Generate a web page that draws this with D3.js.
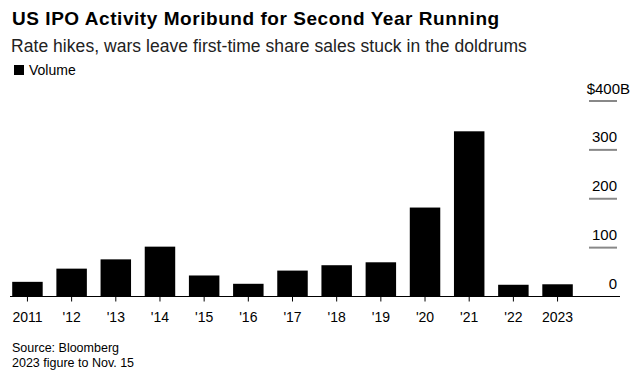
<!DOCTYPE html>
<html>
<head>
    <meta charset="utf-8">
    <script src="https://d3js.org/d3.v7.min.js"></script>
    <style>
        body { margin: 0; background: #fff; }
        text { font-family: "Liberation Sans", Arial, sans-serif; }
    </style>
</head>
<body>
<svg></svg>
<script>
    var years = ['2011', "'12", "'13", "'14", "'15", "'16", "'17", "'18", "'19", "'20", "'21", "'22", '2023'];
    var volume = [30, 57, 76, 102, 43, 26, 53, 64, 70, 182, 338, 24, 25];
    var yTicks = [0, 100, 200, 300, 400];

    var vWidth = 640, vHeight = 373;
    var svg = d3.select('svg').attr('width', vWidth).attr('height', vHeight);

    // Titles
    svg.append('text').attr('x', 12).attr('y', 25)
        .style('font-size', '19px').style('font-weight', 'bold').style('letter-spacing', '0.55px')
        .text('US IPO Activity Moribund for Second Year Running');
    svg.append('text').attr('x', 11).attr('y', 52)
        .style('font-size', '17.5px').style('fill', '#222').style('letter-spacing', '0.05px')
        .text('Rate hikes, wars leave first-time share sales stuck in the doldrums');

    // Legend
    svg.append('rect').attr('x', 14).attr('y', 65).attr('width', 10).attr('height', 10).style('fill', '#000');
    svg.append('text').attr('x', 29).attr('y', 75).style('font-size', '14px').text('Volume');

    // Scales
    var x = d3.scaleBand().domain(years).range([10, 575]).paddingInner(0.31).paddingOuter(0.05);
    var y = d3.scaleLinear().domain([0, 400]).range([296.5, 101]);

    // Right axis: short gridlines with labels above
    var gy = svg.append('g');
    gy.selectAll('line.grid').data(yTicks.slice(1)).enter().append('line')
        .attr('x1', 589).attr('x2', 617)
        .attr('y1', function (d) { return y(d); }).attr('y2', function (d) { return y(d); })
        .style('stroke', '#888').style('stroke-width', 2);
    gy.selectAll('text').data(yTicks).enter().append('text')
        .attr('x', function (d) { return d === 400 ? 630 : 617; })
        .attr('y', function (d) { return y(d) - 7.5; })
        .attr('text-anchor', 'end').style('font-size', '15px')
        .text(function (d) { return d === 400 ? '$400B' : d; });

    // Bars
    svg.selectAll('rect.bar').data(volume).enter().append('rect')
        .attr('class', 'bar')
        .attr('x', function (d, i) { return x(years[i]); })
        .attr('width', x.bandwidth())
        .attr('y', function (d) { return y(d); })
        .attr('height', function (d) { return y(0) - y(d); })
        .style('fill', '#000');

    // Baseline + x ticks
    svg.append('line').attr('x1', 10).attr('x2', 620).attr('y1', y(0)).attr('y2', y(0))
        .style('stroke', '#000').style('stroke-width', 1);
    var gx = svg.append('g');
    gx.selectAll('line').data(years).enter().append('line')
        .attr('x1', function (d) { return x(d) + x.bandwidth() / 2; })
        .attr('x2', function (d) { return x(d) + x.bandwidth() / 2; })
        .attr('y1', y(0)).attr('y2', y(0) + 5)
        .style('stroke', '#000');
    gx.selectAll('text').data(years).enter().append('text')
        .attr('x', function (d) { return x(d) + x.bandwidth() / 2; })
        .attr('y', 322).attr('text-anchor', 'middle').style('font-size', '14px')
        .text(function (d) { return d; });

    // Footer
    svg.append('text').attr('x', 12).attr('y', 352).style('font-size', '12.5px').text('Source: Bloomberg');
    svg.append('text').attr('x', 12).attr('y', 367).style('font-size', '12.5px').text('2023 figure to Nov. 15');
</script>
</body>
</html>
